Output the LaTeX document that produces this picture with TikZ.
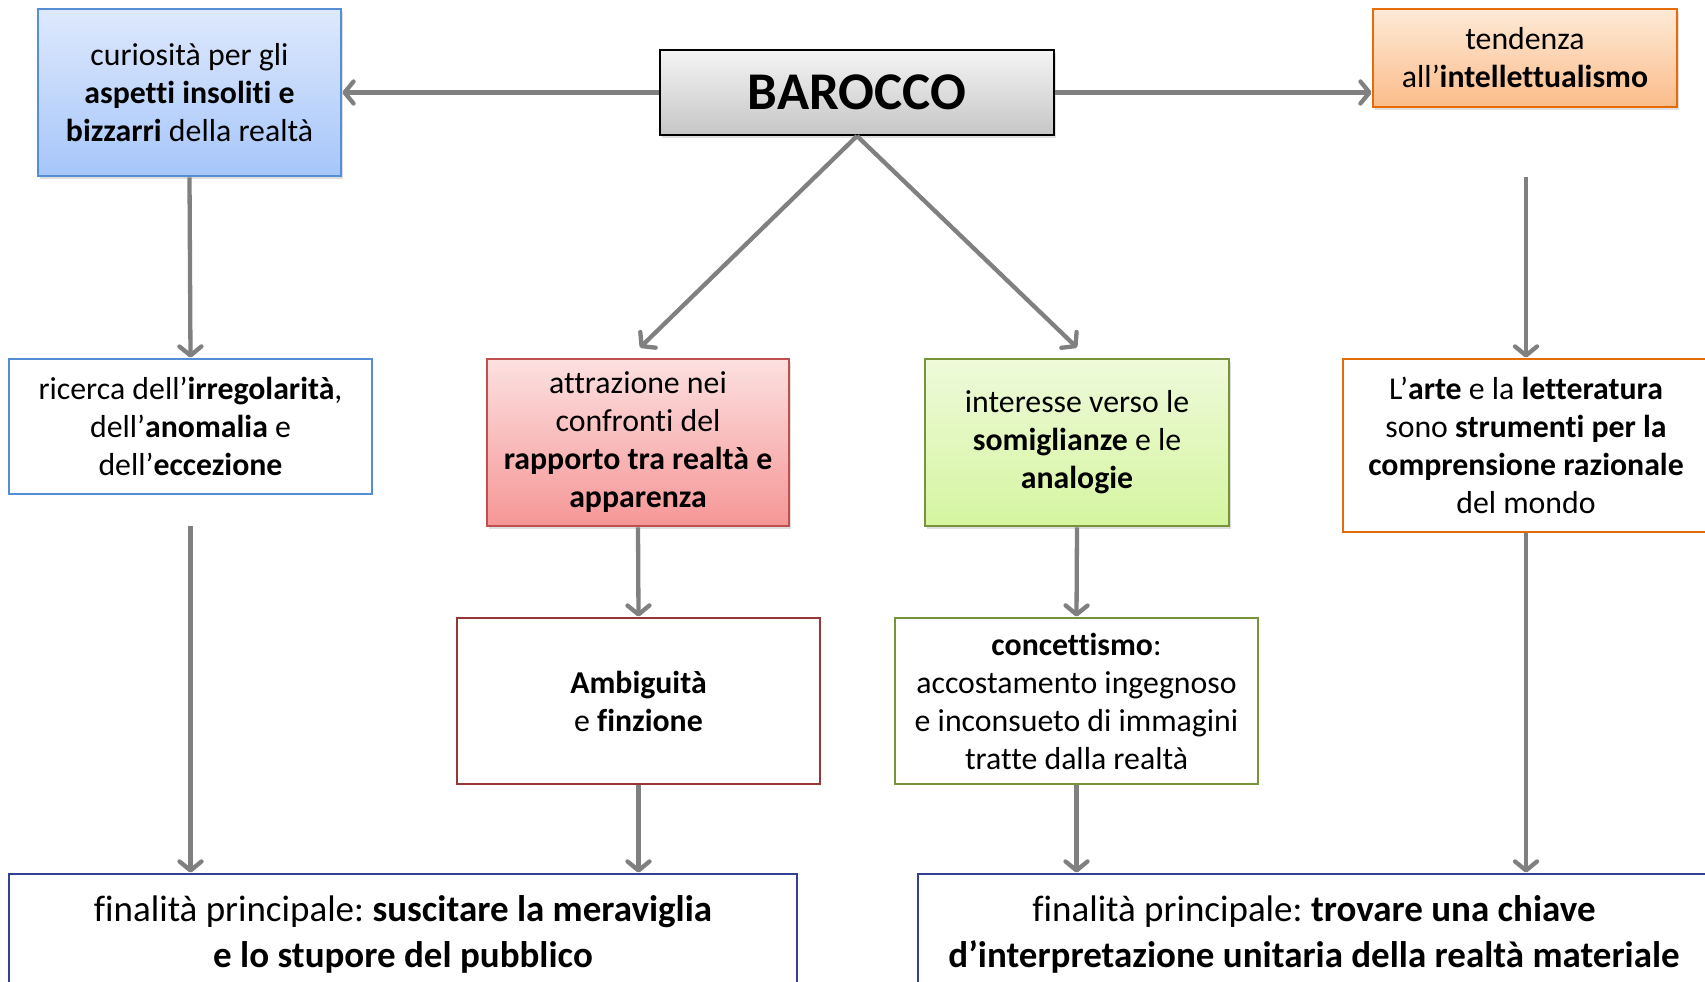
\documentclass[tikz,border=0pt]{standalone}
\usepackage{fontspec}
\setmainfont{Carlito}[Ligatures=NoCommon]
\frenchspacing
\usetikzlibrary{arrows.meta,shadows,calc}
\definecolor{arrgray}{RGB}{128,128,128}
\definecolor{bluebd}{RGB}{85,142,213}
\definecolor{bluetop}{RGB}{222,233,252}
\definecolor{bluebot}{RGB}{166,198,250}
\definecolor{graytop}{RGB}{244,244,244}
\definecolor{graybot}{RGB}{198,198,198}
\definecolor{orbd}{RGB}{228,108,10}
\definecolor{ortop}{RGB}{253,234,215}
\definecolor{orbot}{RGB}{251,188,138}
\definecolor{redbd}{RGB}{192,80,77}
\definecolor{redtop}{RGB}{252,224,224}
\definecolor{redbot}{RGB}{246,150,150}
\definecolor{grbd}{RGB}{119,147,60}
\definecolor{grtop}{RGB}{238,250,218}
\definecolor{grbot}{RGB}{213,245,160}
\definecolor{dredbd}{RGB}{149,55,53}
\definecolor{navybd}{RGB}{50,64,150}
\tikzset{
  box/.style={rectangle, draw, line width=2.8pt, inner sep=0pt, align=center,
    font=\fontsize{31.8}{38}\selectfont},
  shad/.style={drop shadow={opacity=0.25, shadow xshift=2pt, shadow yshift=-3pt}},
  conn/.style={draw=arrgray, line width=4.3pt,
    -{Straight Barb[length=9pt,width=22pt,line cap=round,line join=round]}},
}
\begin{document}
\begin{tikzpicture}[x=1pt,y=-1pt]
\useasboundingbox (0,0) rectangle (1705,982);
\fill[white] (0,0) rectangle (1705,982);
% top row
\node[box, shad, draw=bluebd, top color=bluetop, bottom color=bluebot,
  minimum width=303pt, minimum height=167pt] (cur) at (189.5,92.5)
  {curiosità per gli\\\textbf{aspetti insoliti e}\\\textbf{bizzarri} della realtà};
\node[box, shad, draw=black, line width=2pt, top color=graytop, bottom color=graybot,
  minimum width=394pt, minimum height=85pt, font=\fontsize{53}{60}\selectfont\bfseries] (bar) at (857,92.5)
  {BAROCCO};
\node[box, shad, draw=orbd, top color=ortop, bottom color=orbot,
  minimum width=304pt, minimum height=98pt] (ten) at (1525,58)
  {tendenza\\all’\textbf{intellettualismo}};
% second row
\node[box, draw=bluebd, fill=white, minimum width=363pt, minimum height=135pt] (ric) at (190.5,426.5)
  {ricerca dell’\textbf{irregolarità},\\dell’\textbf{anomalia} e\\dell’\textbf{eccezione}};
\node[box, shad, draw=redbd, top color=redtop, bottom color=redbot,
  minimum width=302pt, minimum height=167pt] (att) at (638,442.5)
  {attrazione nei\\confronti del\\\textbf{rapporto tra realtà e}\\\textbf{apparenza}};
\node[box, shad, draw=grbd, top color=grtop, bottom color=grbot,
  minimum width=304pt, minimum height=167pt] (int) at (1077,442.5)
  {interesse verso le\\\textbf{somiglianze} e le\\\textbf{analogie}};
\node[box, draw=orbd, fill=white, minimum width=366pt, minimum height=173pt] (arte) at (1526,445.5)
  {L’\textbf{arte} e la \textbf{letteratura}\\sono \textbf{strumenti per la}\\\textbf{comprensione razionale}\\del mondo};
% third row
\node[box, draw=dredbd, fill=white, minimum width=363pt, minimum height=166pt] (amb) at (638.5,701)
  {\textbf{Ambiguità}\\e \textbf{finzione}};
\node[box, draw=grbd, fill=white, minimum width=363pt, minimum height=166pt] (con) at (1076.5,701)
  {\textbf{concettismo}:\\accostamento ingegnoso\\e inconsueto di immagini\\tratte dalla realtà};
% bottom row
\node[box, draw=navybd, fill=white, minimum width=788pt, minimum height=120pt,
  font=\fontsize{37}{46}\selectfont] (fin1) at (403,934)
  {finalità principale: \textbf{suscitare la meraviglia}\\\textbf{e lo stupore del pubblico}};
\node[box, draw=navybd, fill=white, minimum width=792pt, minimum height=120pt,
  font=\fontsize{37}{46}\selectfont] (fin2) at (1314,934)
  {finalità principale: \textbf{trovare una chiave}\\\textbf{d’interpretazione unitaria della realtà materiale}};
% connectors
\draw[conn] (bar.west) -- (cur.east);
\draw[conn] (bar.east) -- (bar.east -| ten.west);
\draw[conn] (bar.south) -- ($(att.north)+(2,-10)$);
\draw[conn] (bar.south) -- ($(int.north)+(0,-10)$);
\draw[conn] (cur.south) -- (ric.north);
\draw[conn] ($(ric.south)+(0,31)$) -- (ric.south |- fin1.north);
\draw[conn] ($(ten.south)+(1,69)$) -- (arte.north);
\draw[conn] (arte.south) -- (arte.south |- fin2.north);
\draw[conn] (att.south) -- (amb.north);
\draw[conn] (amb.south) -- (amb.south |- fin1.north);
\draw[conn] (int.south) -- (con.north);
\draw[conn] (con.south) -- (con.south |- fin2.north);
\end{tikzpicture}
\end{document}
